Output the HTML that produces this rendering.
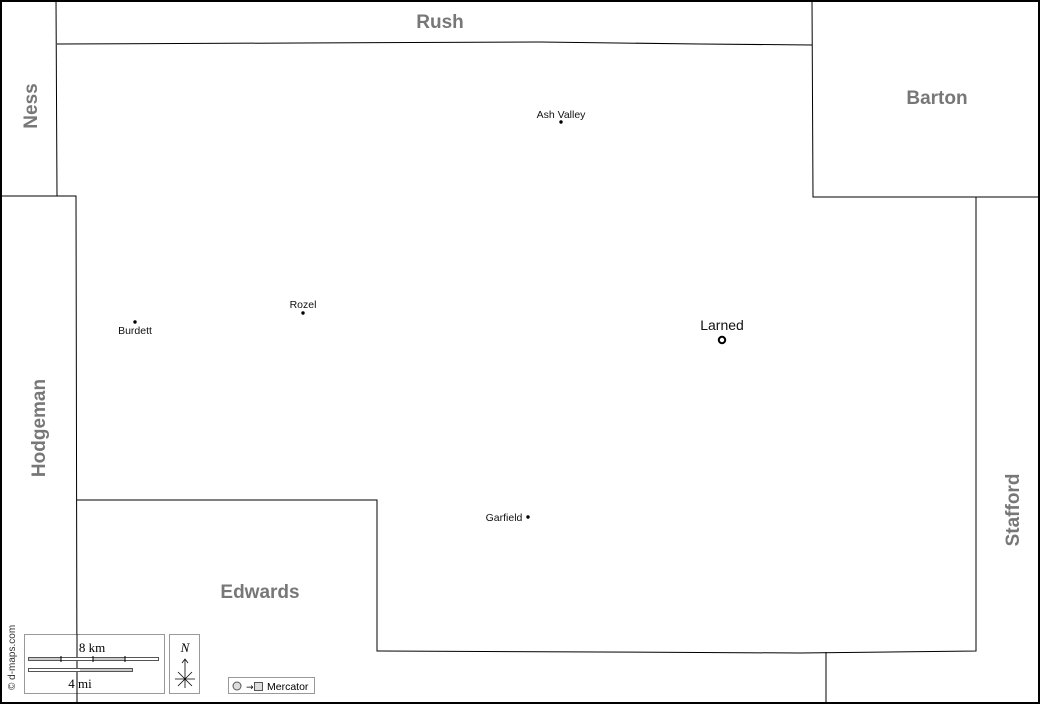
<!DOCTYPE html>
<html><head><meta charset="utf-8"><style>
html,body{margin:0;padding:0;background:#fff}
svg{display:block}
.c{font-family:"Liberation Sans",sans-serif;font-weight:bold;font-size:19px;fill:#777}
.t{font-family:"Liberation Sans",sans-serif;font-size:10.5px;fill:#111}
</style></head><body>
<svg width="1040" height="704" viewBox="0 0 1040 704" xmlns="http://www.w3.org/2000/svg">
<rect x="0" y="0" width="1040" height="704" fill="#fff"/>
<g fill="none" stroke="#000" stroke-width="1">
<polyline points="57,44 300,43 540,42 700,44 812,45"/>
<polyline points="56,0 57,196"/>
<polyline points="0,196 76,196 77,704"/>
<polyline points="77,500 377,500 377,651 600,652 800,653 976,651 976,197 1040,197"/>
<polyline points="812,0 813,197 976,197"/>
<polyline points="826,652 826,704"/>
</g>
<rect x="1" y="1" width="1038" height="702" fill="none" stroke="#000" stroke-width="2"/>
<text class="c" x="440" y="28" text-anchor="middle">Rush</text>
<text class="c" x="937" y="104" text-anchor="middle">Barton</text>
<text class="c" x="260" y="598" text-anchor="middle">Edwards</text>
<text class="c" transform="translate(37,106) rotate(-90)" text-anchor="middle">Ness</text>
<text class="c" transform="translate(45,428) rotate(-90)" text-anchor="middle">Hodgeman</text>
<text class="c" transform="translate(1019,510) rotate(-90)" text-anchor="middle">Stafford</text>
<g class="t">
<text x="561" y="118" text-anchor="middle">Ash Valley</text>
<text x="303" y="308" text-anchor="middle">Rozel</text>
<text x="135" y="334" text-anchor="middle">Burdett</text>
<text x="504" y="521" text-anchor="middle">Garfield</text>
<text x="722" y="330" text-anchor="middle" style="font-size:14px">Larned</text>
<text transform="translate(15,690) rotate(-90)" style="font-size:10px;fill:#333">© d-maps.com</text>
</g>
<g fill="#000">
<circle cx="561" cy="122" r="1.7"/>
<circle cx="303" cy="313" r="1.7"/>
<circle cx="135" cy="322" r="1.7"/>
<circle cx="528" cy="517" r="1.7"/>
</g>
<circle cx="722" cy="340" r="3.2" fill="#fff" stroke="#000" stroke-width="2"/>
<rect x="24.5" y="634.5" width="140" height="59" fill="#fff" stroke="#999"/>
<line x1="77" y1="634" x2="77" y2="704" stroke="#000"/>
<text x="92" y="652" text-anchor="middle" style="font-family:'Liberation Serif',serif;font-size:13px">8 km</text>
<rect x="28.5" y="657.5" width="130" height="3" fill="#fff" stroke="#555"/>
<rect x="29" y="658" width="32" height="2" fill="#ccc"/>
<rect x="93" y="658" width="32" height="2" fill="#ccc"/>
<line x1="61" y1="656" x2="61" y2="662" stroke="#000"/>
<line x1="93" y1="656" x2="93" y2="662" stroke="#000"/>
<line x1="125" y1="656" x2="125" y2="662" stroke="#000"/>
<rect x="28.5" y="668.5" width="104" height="3" fill="#fff" stroke="#555"/>
<rect x="80" y="669" width="52" height="2" fill="#ccc"/>
<text x="80" y="688" text-anchor="middle" style="font-family:'Liberation Serif',serif;font-size:13px">4 mi</text>
<rect x="169.5" y="634.5" width="30" height="59" fill="#fff" stroke="#999"/>
<text x="185" y="652" text-anchor="middle" style="font-family:'Liberation Serif',serif;font-style:italic;font-size:13px">N</text>
<g stroke="#000" fill="none" stroke-width="0.8">
<line x1="185" y1="660" x2="185" y2="688"/>
<polyline points="182,663 185,659 188,663"/>
<line x1="175" y1="679" x2="195" y2="679"/>
<line x1="178" y1="672" x2="192" y2="686"/>
<line x1="192" y1="672" x2="178" y2="686"/>
</g>
<rect x="228.5" y="677.5" width="86" height="16" fill="#fff" stroke="#999"/>
<circle cx="237" cy="686" r="4" fill="#ddd" stroke="#555"/>
<text x="246" y="690" style="font-family:'DejaVu Sans',sans-serif;font-size:9px">→</text>
<rect x="254.5" y="682.5" width="8" height="8" fill="#ddd" stroke="#555"/>
<text x="267" y="690" style="font-family:'Liberation Sans',sans-serif;font-size:10.5px">Mercator</text>
</svg>
</body></html>
